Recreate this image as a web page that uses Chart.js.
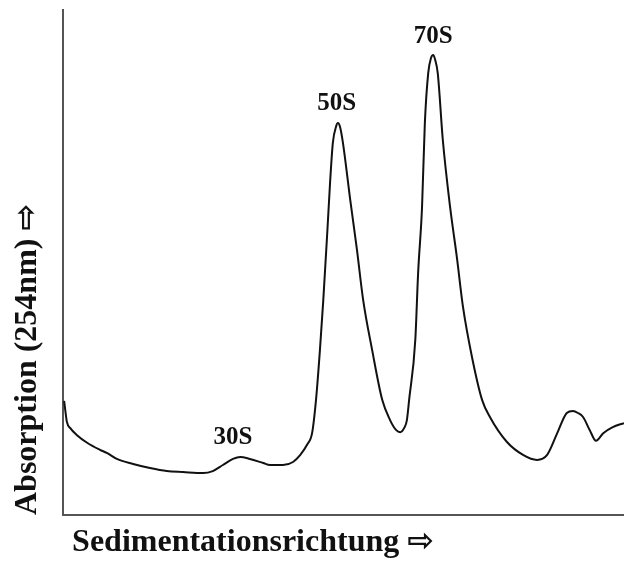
<!DOCTYPE html>
<html>
<head>
<meta charset="utf-8">
<script src="https://cdn.jsdelivr.net/npm/chart.js@4"></script>
<style>
  body { margin: 0; background: #fff; }
  #wrap { width: 624px; height: 565px; }
</style>
</head>
<body>
<div id="wrap"><canvas id="profile"></canvas></div>
<script>
// sedimentation position (% of gradient) and absorbance (arbitrary units)
const positions = [0.2, 0.4, 0.7, 1.3, 2.5, 4.3, 6.6, 7.8, 9.6, 12.5, 15.5, 18.5, 21.4, 25.0, 26.7, 28.5,
  30.3, 31.6, 33.3, 35.7, 36.9, 39.2, 41.0, 42.3, 43.5, 44.4, 45.1, 45.8, 46.4, 47.1, 47.6, 48.1,
  48.7, 49.0, 49.4, 49.9, 51.2, 52.4, 53.5, 55.1, 56.9, 58.3, 59.4, 60.1, 60.8, 61.3, 61.7, 62.8,
  63.3, 64.0, 64.5, 65.1, 65.6, 66.0, 66.3, 66.8, 67.7, 69.0, 70.2, 71.3, 72.9, 74.7, 76.1, 79.1,
  82.0, 84.5, 86.3, 88.1, 89.8, 90.9, 91.8, 92.7, 93.9, 95.0, 96.3, 98.0, 100];
const absorbance = [22.6, 20.8, 18.4, 17.2, 15.8, 14.3, 12.9, 12.3, 11.1, 10.1, 9.3, 8.7, 8.5, 8.3, 8.7, 9.9,
  11.1, 11.5, 11.1, 10.3, 9.9, 9.9, 10.5, 11.9, 13.9, 16.2, 22.8, 32.7, 42.6, 55.8, 65.7, 73.7,
  77.0, 77.6, 76.8, 73.7, 62.4, 52.5, 42.6, 32.7, 22.8, 18.8, 16.8, 16.4, 17.2, 18.8, 22.8, 34.7,
  47.9, 61.0, 77.6, 87.5, 90.5, 91.1, 90.3, 87.5, 74.3, 61.0, 51.1, 41.2, 31.3, 22.8, 19.4, 14.5,
  11.9, 10.9, 11.9, 16.2, 20.2, 20.6, 20.2, 19.4, 16.8, 14.7, 16.2, 17.4, 18.2];

// peak annotations
const peakNames = ['30S', '50S', '70S'];
const peakPos = [30.3, 48.8, 66.0];
const peakAbs = [15.4, 81.4, 94.7];

const serif = '"Liberation Serif", "Times New Roman", "DejaVu Sans", serif';

const peakLabels = {
  id: 'peakLabels',
  afterDatasetsDraw(chart) {
    const { ctx, scales } = chart;
    ctx.save();
    ctx.fillStyle = '#111';
    ctx.font = 'bold 25px ' + serif;
    ctx.textAlign = 'center';
    ctx.textBaseline = 'middle';
    peakNames.forEach((name, i) => {
      ctx.fillText(name, scales.x.getPixelForValue(peakPos[i]), scales.y.getPixelForValue(peakAbs[i]));
    });
    ctx.restore();
  }
};

const ctx = document.getElementById('profile').getContext('2d');
new Chart(ctx, {
  type: 'line',
  data: {
    datasets: [{
      data: positions.map((x, i) => ({ x, y: absorbance[i] })),
      borderColor: '#111',
      borderWidth: 2,
      pointRadius: 0,
      fill: false,
      cubicInterpolationMode: 'monotone'
    }]
  },
  options: {
    responsive: true,
    maintainAspectRatio: false,
    animation: false,
    layout: { padding: { top: 10, right: 0, left: 0, bottom: 0 } },
    plugins: { legend: { display: false }, tooltip: { enabled: false } },
    scales: {
      x: {
        type: 'linear',
        min: 0,
        max: 100,
        grid: { display: false, drawTicks: false },
        ticks: { display: false },
        border: { display: true, color: '#555', width: 2 },
        title: {
          display: true,
          text: '\u2009\u200ASedimentationsrichtung \u21E8',
          align: 'start',
          color: '#111',
          font: { family: serif, size: 32, weight: 'bold' },
          padding: { top: 8.8, bottom: 2.8 }
        }
      },
      y: {
        min: 0,
        max: 100,
        grid: { display: false, drawTicks: false },
        ticks: { display: false },
        border: { display: true, color: '#555', width: 2 },
        title: {
          display: true,
          text: 'Absorption (254nm) \u21E8',
          align: 'start',
          color: '#111',
          font: { family: serif, size: 32, weight: 'bold' },
          padding: { top: 9, bottom: 15.6 }
        }
      }
    }
  },
  plugins: [peakLabels]
});
</script>
</body>
</html>
